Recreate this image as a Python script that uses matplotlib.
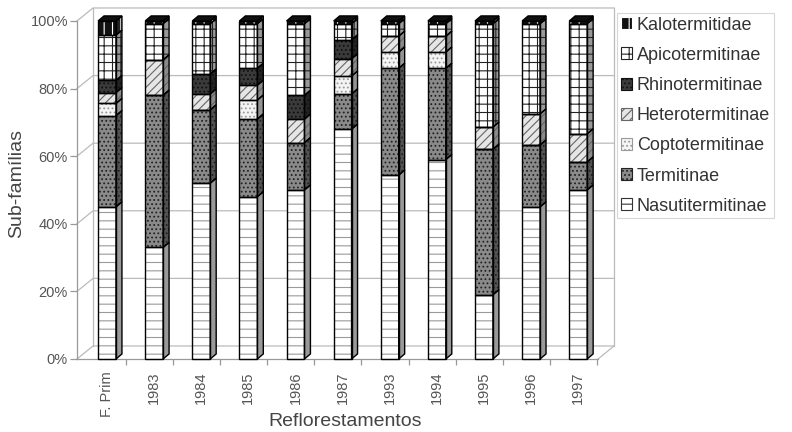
import numpy as np
import matplotlib
matplotlib.use("Agg")
import matplotlib.pyplot as plt
from matplotlib.patches import Polygon, Patch

plt.rcParams['font.family'] = ['Liberation Sans', 'DejaVu Sans']
plt.rcParams['hatch.linewidth'] = 0.8

# Data (percent of each sub-family per site)
sites = ['F. Prim', '1983', '1984', '1985', '1986', '1987',
         '1993', '1994', '1995', '1996', '1997']
nasuti = [45.0, 33.0, 52.0, 48.0, 50.0, 68.0, 54.4, 59.0, 19.0, 45.0, 50.0]
termit = [27.0, 45.0, 21.7, 23.0, 14.0, 10.4, 31.6, 27.0, 43.0, 18.3, 8.3]
copto = [3.6, 0.0, 0.0, 5.6, 0.0, 5.3, 4.8, 4.8, 0.0, 0.0, 0.0]
hetero = [3.2, 10.5, 4.7, 4.4, 7.0, 5.1, 4.7, 4.7, 6.6, 9.2, 8.3]
rhino = [3.6, 0.0, 5.9, 5.0, 7.0, 5.6, 0.0, 0.0, 0.0, 0.0, 0.0]
apico = [13.4, 10.7, 14.9, 13.2, 21.2, 4.8, 3.7, 3.7, 30.6, 26.7, 32.6]
kalo = [4.2, 0.8, 0.8, 0.8, 0.8, 0.8, 0.8, 0.8, 0.8, 0.8, 0.8]

series = [
    # name, values, face, hatch colour, hatch
    ('Nasutitermitinae', nasuti, '#ffffff', '#9a9a9a', '--'),
    ('Termitinae', termit, '#8a8a8a', '#222222', '....'),
    ('Coptotermitinae', copto, '#f4f4f4', '#9a9a9a', '....'),
    ('Heterotermitinae', hetero, '#e6e6e6', '#666666', '////'),
    ('Rhinotermitinae', rhino, '#3a3a3a', '#111111', '....'),
    ('Apicotermitinae', apico, '#ffffff', '#222222', '++'),
    ('Kalotermitidae', kalo, '#111111', '#ffffff', '||'),
]

def darker(c, f=0.6):
    rgb = np.array(matplotlib.colors.to_rgb(c))
    return tuple(rgb * f)

fig = plt.figure(figsize=(7.92, 4.32), dpi=100)
ax = fig.add_axes([77 / 792, 73 / 432, 521 / 792, 338 / 432])
x0, x1 = -0.637, 10.42
ax.set_xlim(x0, x1)
ax.set_ylim(0, 100)

# 3D look: depth of the wall and of each bar (data units)
dx, dy = 0.34, 3.85
sx, sy = 0.127, 1.5
w = 0.38
grid_c = '#bbbbbb'

# back wall, floor and gridlines
for y in [0, 20, 40, 60, 80, 100]:
    ax.plot([x0, x0 + dx, x1 + dx], [y, y + dy, y + dy], color=grid_c,
            lw=0.9, clip_on=False, zorder=0)
ax.plot([x0 + dx, x0 + dx], [dy, 100 + dy], color=grid_c, lw=0.9, clip_on=False, zorder=0)
ax.plot([x1 + dx, x1 + dx], [dy, 100 + dy], color=grid_c, lw=0.9, clip_on=False, zorder=0)
ax.plot([x1, x1 + dx], [0, dy], color=grid_c, lw=0.9, clip_on=False, zorder=0)

xs = np.arange(len(sites))
bottom = np.zeros(len(sites))
for name, vals, fc, hc, hatch in series:
    vals = np.array(vals)
    ax.bar(xs, vals, w, bottom=bottom, color=fc, edgecolor=hc, hatch=hatch,
           linewidth=0, zorder=2, clip_on=False)
    ax.bar(xs, vals, w, bottom=bottom, fill=False, edgecolor='black',
           linewidth=1.0, zorder=3, clip_on=False)
    for i in xs:
        b, t = bottom[i], bottom[i] + vals[i]
        if vals[i] <= 0:
            continue
        xr = i + w / 2
        side = Polygon([(xr, b), (xr + sx, b + sy), (xr + sx, t + sy), (xr, t)],
                       closed=True, facecolor=darker(fc, 0.6) if fc != '#111111' else '#222222',
                       edgecolor=hc, hatch=hatch, linewidth=0, zorder=2, clip_on=False)
        ax.add_patch(side)
        ax.add_patch(Polygon([(xr, b), (xr + sx, b + sy), (xr + sx, t + sy), (xr, t)],
                             closed=True, fill=False, edgecolor='black', lw=1.0,
                             zorder=3, clip_on=False))
    bottom = bottom + vals

# top faces of the bars (top segment)
for i in xs:
    xl, xr = i - w / 2, i + w / 2
    t = bottom[i]
    ax.add_patch(Polygon([(xl, t), (xl + sx, t + sy), (xr + sx, t + sy), (xr, t)],
                         closed=True, facecolor='#111111', edgecolor='black', lw=1.0,
                         zorder=3, clip_on=False))

# axes
for s in ['top', 'right']:
    ax.spines[s].set_visible(False)
for s in ['left', 'bottom']:
    ax.spines[s].set_color('#999999')
    ax.spines[s].set_linewidth(0.9)

ax.set_yticks([0, 20, 40, 60, 80, 100])
ax.set_yticklabels(['0%', '20%', '40%', '60%', '80%', '100%'])
ax.tick_params(axis='y', length=5, width=0.9, color='#999999', pad=1.5,
               labelsize=10.5, labelcolor='#555555')

ax.set_xticks(xs)
ax.set_xticklabels(sites, rotation=90)
ax.set_xticks(xs + 0.4, minor=True)
ax.tick_params(axis='x', which='major', length=0, pad=9, labelsize=10.5,
               labelcolor='#555555')
ax.tick_params(axis='x', which='minor', length=4.5, width=0.9, color='#999999')

fig.text(17 / 792, 1 - 183 / 432, 'Sub-famílias', rotation=90, ha='center',
         va='center', fontsize=14, color='#444444')
fig.text(345 / 792, 1 - 421 / 432, 'Reflorestamentos', ha='center', va='center',
         fontsize=14, color='#444444')

handles = [Patch(facecolor=fc, edgecolor=hc if name != 'Nasutitermitinae' else '#333333',
                 hatch=hatch, linewidth=0.8, label=name)
           for name, vals, fc, hc, hatch in series[::-1]]
leg = fig.legend(handles=handles, loc='upper left', bbox_to_anchor=(617 / 792, 1 - 13 / 432),
                 fontsize=13, frameon=True, fancybox=False, borderaxespad=0,
                 handlelength=0.65, handleheight=0.65, handletextpad=0.25,
                 labelspacing=0.73, borderpad=0.2, labelcolor='#333333')
leg.get_frame().set_edgecolor('#cccccc')
leg.get_frame().set_linewidth(0.8)

fig.savefig('out.png', dpi=100)
